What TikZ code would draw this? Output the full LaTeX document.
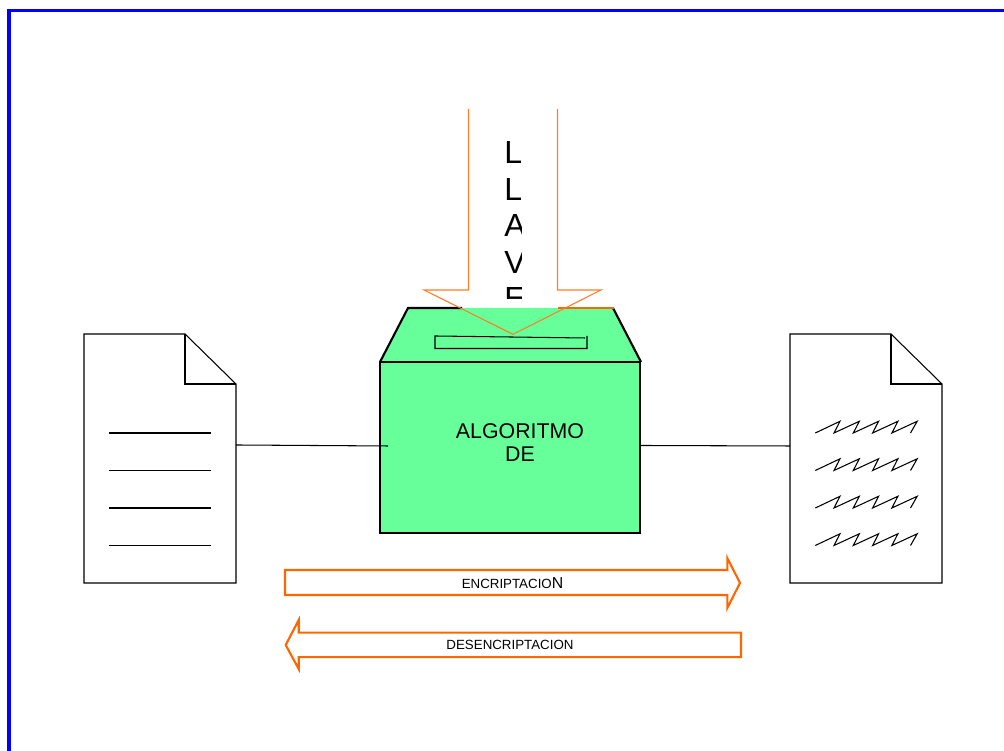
\documentclass[tikz,border=0pt]{standalone}
\usepackage{fontspec}
\setmainfont{Liberation Sans}
\definecolor{framecol}{HTML}{0000FF}
\definecolor{boxcol}{HTML}{66FF99}
\definecolor{arrowcol}{HTML}{FF6600}
\tikzset{
  thinline/.style={line width=.3pt},
  thickline/.style={line width=.6pt},
  bandarrow/.style={draw=arrowcol, line width=.6pt, line join=miter},
  lbl/.style={inner sep=0, align=center},
  sheet/.pic={
    \draw[thinline] (0,0) -- (0,2.49) -- (1.01,2.49) -- (1.52,1.99) -- (1.52,0) -- cycle;
    \draw[thinline] (1.01,2.49) -- (1.01,1.99) -- (1.52,1.99);
  },
  plainsheet/.pic={
    \pic {sheet};
    \coordinate (-port) at (1.52,1.38);
    \foreach \row in {.375,.75,1.125,1.5}
      \draw[thinline] (.25,\row) -- (1.27,\row);
  },
  ciphersheet/.pic={
    \pic {sheet};
    \coordinate (-port) at (0,1.37);
    \foreach \row in {.375,.75,1.125,1.5}
      \draw[thinline] (.253,\row) -- ++(.247,.117) -- ++(-.06,-.117) -- ++(.253,.117) -- ++(-.06,-.117) -- ++(.253,.117) -- ++(-.06,-.117) -- ++(.253,.117) -- ++(-.06,-.117) -- ++(.253,.117) -- ++(-.067,-.117);
  }
}
\begin{document}
\begin{tikzpicture}
\useasboundingbox (0,0) rectangle (10.04,7.51);
\draw[framecol, line width=.9pt] (.09,0) -- (.09,7.405) -- (10.04,7.405);
% ballot box
\fill[boxcol] (3.8,3.89) -- (4.08,4.43) -- (6.13,4.43) -- (6.41,3.89) -- cycle;
\node[draw, thinline, fill=boxcol, minimum width=2.6cm, minimum height=1.71cm, inner sep=0] (box) at (5.1,3.035) {};
\draw[thickline] (3.8,3.89) -- (6.41,3.89);
\draw[thickline] (4.62,4.43) -- (4.08,4.43) -- (3.8,3.89);
\draw[thickline] (6.13,4.43) -- (6.41,3.89);
\draw[arrowcol, thickline] (5.58,4.43) -- (6.14,4.43);
\draw[thinline] (5.85,4.13) -- (4.35,4.15) -- (4.35,4.025) -- (5.87,4.025) -- (5.87,4.15);
\node[lbl, font=\fontsize{6.07}{6.55}\selectfont] (algo) at (5.2,3.085) {ALGORITMO\\DE};
% key arrow
\begin{scope}
\clip (4.9,4.52) rectangle (5.21,6.5);
\node[anchor=north west, inner sep=0, align=left, font=\fontsize{9.1}{10.4}\selectfont] (key) at (5.036,6.1) {L\\L\\A\\V\\E};
\end{scope}
\draw[arrowcol!85!white, thinline] (4.685,6.42) -- (4.685,4.61) -- (4.24,4.61) -- (5.13,4.167) -- (6.01,4.61) -- (5.575,4.61) -- (5.575,6.42);
% sheets
\pic (plain) at (.84,1.68) {plainsheet};
\pic (cipher) at (7.9,1.68) {ciphersheet};
\coordinate (boxin) at (3.88,3.05);
\coordinate (boxout) at (6.4,3.055);
\draw[thinline] (plain-port) -- (boxin);
\draw[thinline] (boxout) -- (cipher-port);
% direction arrows
\draw[bandarrow] (2.85,1.56) -- (7.273,1.56) -- (7.273,1.43) -- (7.4,1.68) -- (7.273,1.93) -- (7.273,1.81) -- (2.85,1.81) -- cycle;
\draw[bandarrow] (7.41,.938) -- (2.987,.938) -- (2.987,.82) -- (2.857,1.06) -- (2.987,1.31) -- (2.987,1.183) -- (7.41,1.183) -- cycle;
\node[lbl, font=\fontsize{3.79}{4}\selectfont] (enc) at (5.125,1.68) {ENCRIPTACIO{\fontsize{4.5}{4}\selectfont N}};
\node[lbl, font=\fontsize{3.79}{4}\selectfont] (dec) at (5.1,1.06) {DESENCRIPTACION};
\end{tikzpicture}
\end{document}
